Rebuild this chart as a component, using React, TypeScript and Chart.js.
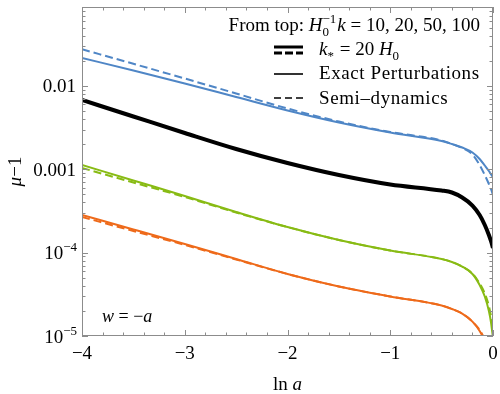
import { useEffect, useRef } from 'react';
import { Chart, registerables } from 'chart.js';
Chart.register(...registerables);

const lnA = [-4, -3.5, -3, -2.5, -2, -1.5, -1, -0.5, -0.4, -0.3, -0.2, -0.13, -0.08, -0.04, -0.02, 0];

const blueExact = [0.02168, 0.01535, 0.01072, 0.007379, 0.005082, 0.003648, 0.002767, 0.002188, 0.002014, 0.001828, 0.001592, 0.00133, 0.001112, 0.000955, 0.000874, 0.000802];
const blueSemi = [0.02756, 0.01847, 0.0123, 0.008128, 0.00537, 0.00375, 0.002805, 0.002218, 0.002014, 0.001803, 0.001507, 0.001127, 0.000855, 0.000667, 0.000581, 0.000492];
const blackK20 = [0.006792, 0.004305, 0.002729, 0.001754, 0.001191, 0.000855, 0.000658, 0.000557, 0.000527, 0.000459, 0.000368, 0.000283, 0.000215, 0.000163, 0.000138, 0.000114];
const greenExact = [0.001127, 0.000735, 0.000479, 0.000308, 0.000203, 0.000142, 0.000106, 0.000084, 0.0000773, 0.0000682, 0.0000555, 0.0000409, 0.0000298, 0.00001995, 0.00001472, 0.00000946];
const greenSemi = [0.001038, 0.000695, 0.000466, 0.000303, 0.000203, 0.000142, 0.000106, 0.000084, 0.0000773, 0.0000682, 0.0000562, 0.0000427, 0.0000324, 0.0000229, 0.0000174, 0.0000112];
const orangeExact = [0.000283, 0.00019, 0.000127, 0.000084, 0.0000555, 0.0000393, 0.0000298, 0.0000232, 0.0000211, 0.0000186, 0.0000149, 0.0000115, 0.0000087, 0.0000064, 0.0000054, 0.0000045];
const orangeSemi = [0.000268, 0.000182, 0.000124, 0.0000828, 0.0000555, 0.0000393, 0.0000298, 0.0000232, 0.0000211, 0.0000186, 0.0000149, 0.0000118, 0.0000091, 0.0000068, 0.0000058, 0.0000047];

const xTicks = [-4, -3, -2, -1, 0];
const xTickLabels = ['\u22124', '\u22123', '\u22122', '\u22121', '0'];
const yTicks = [1e-5, 1e-4, 1e-3, 1e-2];
const yTickMantissa = ['10', '10', '0.001', '0.01'];
const yTickExponent = ['\u22125', '\u22124', '', ''];

const BLUE = '#4f86c6';
const GREEN = '#88bb14';
const ORANGE = '#ee6a1a';
const FONT = '"Liberation Serif", "Times New Roman", serif';

type Part = { t?: string; it?: boolean; size?: number; dy?: number; sub?: string; sup?: string };

function fontOf(size: number, it?: boolean) {
  return `${it ? 'italic ' : ''}${size}px ${FONT}`;
}

function richWidth(ctx: CanvasRenderingContext2D, parts: Part[], base: number) {
  let w = 0;
  for (const p of parts) {
    if (p.sub !== undefined || p.sup !== undefined) {
      const s = Math.round(base * 0.68);
      ctx.font = fontOf(s);
      w += Math.max(ctx.measureText(p.sub || '').width, ctx.measureText(p.sup || '').width) + 1;
    } else {
      ctx.font = fontOf(p.size || base, p.it);
      w += ctx.measureText(p.t || '').width;
    }
  }
  return w;
}

function drawRich(ctx: CanvasRenderingContext2D, x: number, y: number, parts: Part[], base: number, align: 'left' | 'right' | 'center' = 'left') {
  const w = richWidth(ctx, parts, base);
  let cx = align === 'left' ? x : align === 'right' ? x - w : x - w / 2;
  ctx.textAlign = 'left';
  ctx.textBaseline = 'alphabetic';
  for (const p of parts) {
    if (p.sub !== undefined || p.sup !== undefined) {
      const s = Math.round(base * 0.68);
      ctx.font = fontOf(s);
      if (p.sub) ctx.fillText(p.sub, cx, y + base * 0.28);
      if (p.sup) ctx.fillText(p.sup, cx, y - base * 0.42);
      cx += Math.max(ctx.measureText(p.sub || '').width, ctx.measureText(p.sup || '').width) + 1;
    } else {
      ctx.font = fontOf(p.size || base, p.it);
      ctx.fillText(p.t || '', cx, y + (p.dy || 0));
      cx += ctx.measureText(p.t || '').width;
    }
  }
}

const framePlugin = {
  id: 'mmaFrame',
  afterDraw(chart: any) {
    const ctx: CanvasRenderingContext2D = chart.ctx;
    const { left, right, top, bottom } = chart.chartArea;
    const xs = chart.scales.x;
    const ys = chart.scales.y;
    ctx.save();
    ctx.strokeStyle = '#8c8c8c';
    ctx.lineWidth = 1;
    ctx.strokeRect(left + 0.5, top + 0.5, right - left - 1, bottom - top - 1);
    ctx.beginPath();
    for (let k = -40; k <= 0; k += 2) {
      const v = k / 10;
      const major = k % 10 === 0;
      const len = major ? 6 : 3.5;
      const px = Math.round(xs.getPixelForValue(v)) + 0.5;
      ctx.moveTo(px, bottom); ctx.lineTo(px, bottom - len);
      ctx.moveTo(px, top); ctx.lineTo(px, top + len);
    }
    for (let e = -5; e <= -2; e++) {
      for (let m = 1; m <= 9; m++) {
        const v = m * Math.pow(10, e);
        if (v > ys.max) continue;
        const len = m === 1 ? 6 : 3.5;
        const py = Math.round(ys.getPixelForValue(v)) + 0.5;
        ctx.moveTo(left, py); ctx.lineTo(left + len, py);
        ctx.moveTo(right, py); ctx.lineTo(right - len, py);
      }
    }
    ctx.stroke();

    ctx.fillStyle = '#000';
    const base = 19;
    xTicks.forEach((v, i) => {
      ctx.font = fontOf(base);
      ctx.textAlign = 'center';
      ctx.textBaseline = 'alphabetic';
      ctx.fillText(xTickLabels[i], xs.getPixelForValue(v), bottom + 23);
    });
    yTicks.forEach((v, i) => {
      const py = ys.getPixelForValue(v);
      if (yTickExponent[i]) {
        drawRich(ctx, left - 4, py + 6.5, [{ t: yTickMantissa[i] }, { sup: yTickExponent[i] }], base, 'right');
      } else {
        drawRich(ctx, left - 6, py + 6.5, [{ t: yTickMantissa[i] }], base, 'right');
      }
    });
    drawRich(ctx, (left + right) / 2, bottom + 54, [{ t: 'ln ' }, { t: 'a', it: true }], base, 'center');
    ctx.save();
    ctx.translate(21, (top + bottom) / 2);
    ctx.rotate(-Math.PI / 2);
    drawRich(ctx, 0, 0, [{ t: '\u03bc', it: true }, { t: '\u22121' }], base, 'center');
    ctx.restore();

    drawRich(ctx, 102, 322, [{ t: 'w', it: true }, { t: ' = \u2212' }, { t: 'a', it: true }], 18, 'left');

    drawRich(ctx, 480, 31, [
      { t: 'From top: ' }, { t: 'H', it: true }, { sub: '0', sup: '\u22121' }, { t: 'k', it: true }, { t: ' = 10, 20, 50, 100' },
    ], base, 'right');
    drawRich(ctx, 319, 55, [
      { t: 'k', it: true }, { sub: '*' }, { t: ' = 20 ' }, { t: 'H', it: true }, { sub: '0' },
    ], base, 'left');
    (ctx as any).letterSpacing = '0.6px';
    drawRich(ctx, 319, 79, [{ t: 'Exact Perturbations' }], base, 'left');
    drawRich(ctx, 319, 104, [{ t: 'Semi\u2013dynamics' }], base, 'left');
    (ctx as any).letterSpacing = '0px';

    ctx.strokeStyle = '#000';
    ctx.lineWidth = 3;
    ctx.setLineDash([]);
    ctx.beginPath(); ctx.moveTo(274, 47); ctx.lineTo(303, 47); ctx.stroke();
    ctx.setLineDash([8, 3]);
    ctx.beginPath(); ctx.moveTo(274, 53); ctx.lineTo(303, 53); ctx.stroke();
    ctx.lineWidth = 1.6;
    ctx.setLineDash([]);
    ctx.beginPath(); ctx.moveTo(274, 74); ctx.lineTo(303, 74); ctx.stroke();
    ctx.setLineDash([7, 4]);
    ctx.beginPath(); ctx.moveTo(274, 98); ctx.lineTo(303, 98); ctx.stroke();
    ctx.restore();
  },
};

function series(vals: number[], color: string, width: number, dash: number[]) {
  return {
    data: lnA.map((x, i) => ({ x, y: vals[i] })),
    borderColor: color,
    borderWidth: width,
    borderDash: dash,
    pointRadius: 0,
    fill: false,
    cubicInterpolationMode: 'monotone' as const,
  };
}

export default function App() {
  const ref = useRef<HTMLCanvasElement>(null);
  useEffect(() => {
    if (!ref.current) return;
    const chart = new Chart(ref.current, {
      type: 'line',
      data: {
        datasets: [
          series(blackK20, '#000000', 4, []),
          series(blueSemi, BLUE, 2, [8, 4]),
          series(blueExact, BLUE, 2, []),
          series(greenSemi, GREEN, 2, [8, 4]),
          series(greenExact, GREEN, 2, []),
          series(orangeSemi, ORANGE, 2, [8, 4]),
          series(orangeExact, ORANGE, 2, []),
        ] as any,
      },
      options: {
        responsive: false,
        animation: false,
        devicePixelRatio: 1,
        layout: { padding: { left: 82, right: 7, top: 7, bottom: 58 } },
        plugins: { legend: { display: false }, tooltip: { enabled: false } },
        scales: {
          x: { type: 'linear', min: -4, max: 0, display: false },
          y: { type: 'logarithmic', min: 1e-5, max: 0.0887, display: false },
        },
      },
      plugins: [framePlugin],
    });
    return () => chart.destroy();
  }, []);
  return (
    <div style={{ position: 'absolute', left: 0, top: 0, width: 500, height: 394, background: '#fff' }}>
      <canvas ref={ref} width={500} height={394} style={{ display: 'block' }} />
    </div>
  );
}
